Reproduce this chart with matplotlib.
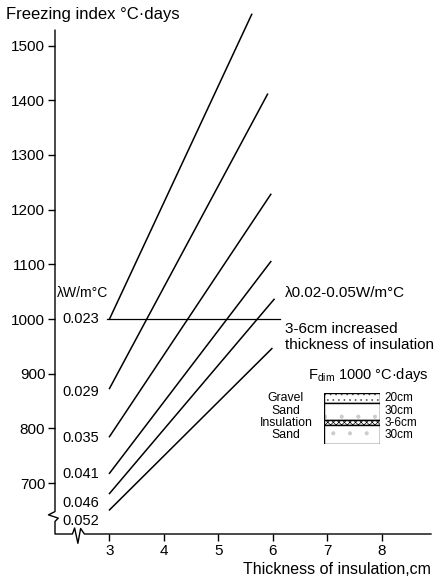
import matplotlib
matplotlib.use("Agg")
import matplotlib.pyplot as plt
from matplotlib.patches import Rectangle

plt.rcParams['font.family'] = ['Liberation Sans', 'DejaVu Sans']
plt.rcParams['mathtext.fontset'] = 'custom'
plt.rcParams['mathtext.rm'] = 'Liberation Sans'
plt.rcParams['hatch.linewidth'] = 0.5

# conductivity lines: start at 3 cm, end near 6 cm
lambdas = ['0.023', '0.029', '0.035', '0.041', '0.046', '0.052']
x_start = [3.0, 3.0, 3.0, 3.0, 3.0, 3.0]
x_end = [5.61, 5.90, 5.96, 5.96, 6.02, 5.98]
y_start = [1000, 873, 785, 718, 681, 651]
y_end = [1557, 1411, 1228, 1105, 1036, 946]
label_y = [1000, 866, 782, 716, 664, 630]

# design freezing index line
fdim_x = [2.95, 6.13]
fdim_y = [1000, 1000]

yticks = [700, 800, 900, 1000, 1100, 1200, 1300, 1400, 1500]
xticks = [3, 4, 5, 6, 7, 8]

# soil profile (drawn heights, not to scale)
layers = ['Gravel', 'Sand', 'Insulation', 'Sand']
layer_h = [10, 17, 5, 19]
layer_cm = ['20cm', '30cm', '3-6cm', '30cm']
layer_hatch = ['...', '.', 'xxxxxx', '.']
layer_hcol = ['#555555', '#cccccc', 'black', '#cccccc']

W, H = 448, 581
fig = plt.figure(figsize=(W / 100, H / 100), dpi=100)
ax = fig.add_axes([55 / W, 47 / H, 376 / W, 529.5 / H])
ax.set_xlim(2.0, 8.9)
ax.set_ylim(607, 1575)
for s in ax.spines.values():
    s.set_visible(False)

for i in range(len(lambdas)):
    ax.plot([x_start[i], x_end[i]], [y_start[i], y_end[i]], color='black', lw=1.1)
    ax.text(2.13, label_y[i], lambdas[i], fontsize=10.5, va='center', ha='left')
ax.plot(fdim_x, fdim_y, color='black', lw=0.9)

# axes with break marks
axis_x = [2.0, 2.0, 1.88, 2.06, 2.0, 2.0, 2.32, 2.36, 2.42, 2.47, 2.54, 8.9]
axis_y = [1528, 648, 642, 636, 630, 607, 607, 618, 590, 617, 607, 607]
ax.plot(axis_x, axis_y, color='black', lw=1.0, clip_on=False)

ax.set_yticks(yticks)
ax.set_xticks(xticks)
ax.tick_params(axis='both', direction='out', length=5, width=1, labelsize=11, pad=2)

fig.text(6 / W, 1 - 15 / H, 'Freezing index °C·days', fontsize=12, va='center', ha='left')
ax.text(2.04, 1048, 'λW/m°C', fontsize=10, va='center', ha='left')
ax.text(6.22, 1048, 'λ0.02-0.05W/m°C', fontsize=11, va='center', ha='left')
ax.text(6.22, 982, '3-6cm increased', fontsize=11, va='center', ha='left')
ax.text(6.22, 952, 'thickness of insulation', fontsize=11, va='center', ha='left')
ax.text(6.64, 898, r'F$_{\rm dim}$ 1000 °C·days', fontsize=10.5, va='center', ha='left')
fig.text(243 / W, 1 - 570 / H, 'Thickness of insulation,cm', fontsize=11.5, va='center', ha='left')

# soil profile box
bx = fig.add_axes([324 / W, 137 / H, 56 / W, 51 / H])
bx.set_xlim(0, 1)
bx.set_ylim(0, sum(layer_h))
bx.axis('off')
top = sum(layer_h)
for i in range(len(layers)):
    bottom = top - layer_h[i]
    bx.add_patch(Rectangle((0, bottom), 1, layer_h[i], facecolor='white',
                           edgecolor=layer_hcol[i], hatch=layer_hatch[i], lw=0))
    bx.add_patch(Rectangle((0, bottom), 1, layer_h[i], facecolor='none',
                           edgecolor='black', lw=1.0))
    mid = (top + bottom) / 2
    bx.text(-0.68, mid, layers[i], fontsize=8.8, ha='center', va='center', clip_on=False)
    bx.text(1.08, mid, layer_cm[i], fontsize=8.5, ha='left', va='center', clip_on=False)
    top = bottom

fig.savefig('out.png', dpi=100)
